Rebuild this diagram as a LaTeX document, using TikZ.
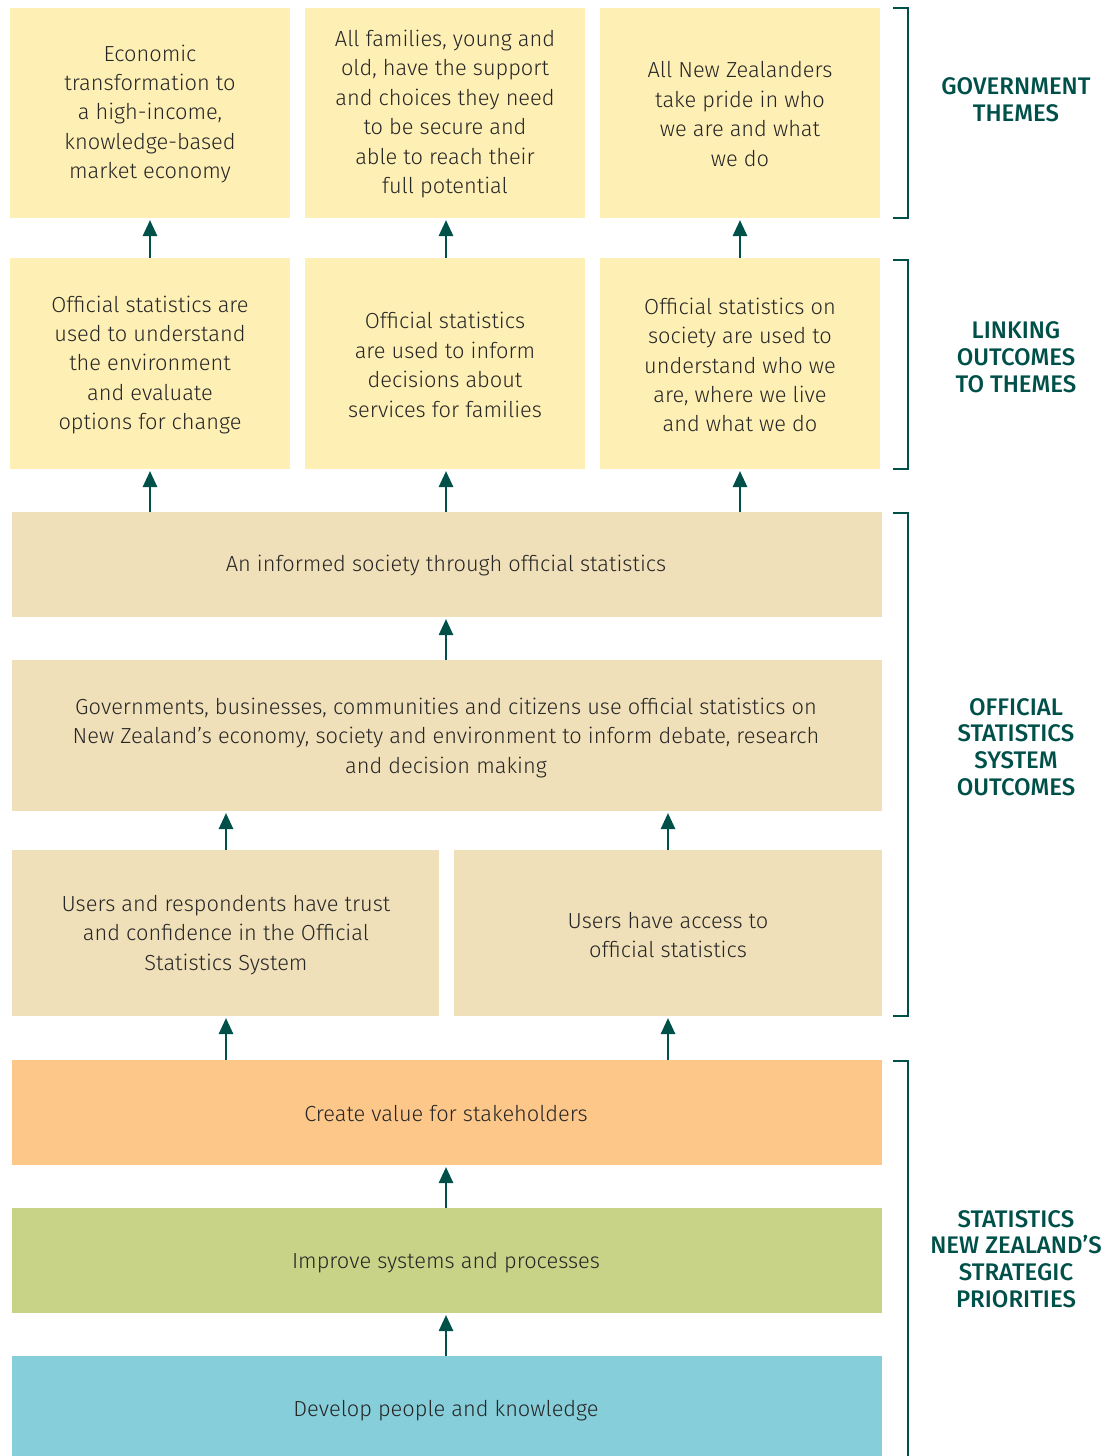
\documentclass[tikz,border=0pt]{standalone}
\usepackage{fontspec}
\setmainfont{Fira Sans Light}
\newfontfamily\labfont{Fira Sans Medium}
\usetikzlibrary{arrows.meta}
\definecolor{themeyel}{RGB}{254,239,181}
\definecolor{beige}{RGB}{240,224,185}
\definecolor{orng}{RGB}{253,199,138}
\definecolor{grn}{RGB}{200,211,136}
\definecolor{blu}{RGB}{134,206,217}
\definecolor{teal}{RGB}{0,80,74}
\begin{document}
\begin{tikzpicture}[x=1pt,y=-1pt,
  boxtxt/.style={font=\fontsize{21.8}{29.4}\selectfont, align=center, text=black!85},
  uparrow/.style={draw=teal, line width=2.6pt, shorten >=2pt, -{Triangle[length=16pt,width=14pt]}},
  brk/.style={draw=teal, line width=1.2pt},
  lab/.style={font=\labfont\fontsize{24}{26.8}\selectfont, align=center, text=teal}]
\useasboundingbox (0,0) rectangle (1113,1456);
% row 1
\fill[themeyel] (10,8) rectangle (290,218);
\fill[themeyel] (305,8) rectangle (585,218);
\fill[themeyel] (600,8) rectangle (880,218);
\node[boxtxt] (t1) at (150,114) {Economic\\transformation to\\a high-income,\\knowledge-based\\market economy};
\node[boxtxt] (t2) at (445,114) {All families, young and\\old, have the support\\and choices they need\\to be secure and\\able to reach their\\full potential};
\node[boxtxt] (t3) at (740,114) {All New Zealanders\\take pride in who\\we are and what\\we do};
\coordinate (t1b) at (150,218); \coordinate (t2b) at (446,218); \coordinate (t3b) at (740,218);
% row 2
\fill[themeyel] (10,258) rectangle (290,469);
\fill[themeyel] (305,258) rectangle (585,469);
\fill[themeyel] (600,258) rectangle (880,469);
\node[boxtxt] (l1) at (150,365) {Official statistics are\\used to understand\\the environment\\and evaluate\\options for change};
\node[boxtxt] (l2) at (445,365) {Official statistics\\are used to inform\\decisions about\\services for families};
\node[boxtxt] (l3) at (740,365) {Official statistics on\\society are used to\\understand who we\\are, where we live\\and what we do};
\coordinate (l1t) at (150,258); \coordinate (l2t) at (446,258); \coordinate (l3t) at (740,258);
\coordinate (l1b) at (150,469); \coordinate (l2b) at (446,469); \coordinate (l3b) at (740,469);
% system outcomes
\fill[beige] (12,512) rectangle (882,617);
\node[boxtxt] (s1) at (446,566) {An informed society through official statistics};
\coordinate (s1a) at (150,512); \coordinate (s1b) at (446,512); \coordinate (s1c) at (740,512);
\coordinate (s1bot) at (446,617);
\fill[beige] (12,660) rectangle (882,811);
\node[boxtxt] (s2) at (446,738) {Governments, businesses, communities and citizens use official statistics on\\New Zealand’s economy, society and environment to inform debate, research\\and decision making};
\coordinate (s2t) at (446,660); \coordinate (s2l) at (226,811); \coordinate (s2r) at (668,811);
\fill[beige] (12,850) rectangle (439,1016);
\fill[beige] (454,850) rectangle (882,1016);
\node[boxtxt] (s3) at (226,935) {Users and respondents have trust\\and confidence in the Official\\Statistics System};
\node[boxtxt] (s4) at (668,935) {Users have access to\\official statistics};
\coordinate (s3t) at (226,850); \coordinate (s4t) at (668,850);
\coordinate (s3b) at (226,1016); \coordinate (s4b) at (668,1016);
% priorities
\fill[orng] (12,1060) rectangle (882,1165);
\node[boxtxt] (p1) at (446,1114) {Create value for stakeholders};
\coordinate (p1l) at (226,1060); \coordinate (p1r) at (668,1060);
\coordinate (p1t) at (446,1165);
\fill[grn] (12,1208) rectangle (882,1313);
\node[boxtxt] (p2) at (446,1263) {Improve systems and processes};
\coordinate (p2t) at (446,1208); \coordinate (p2b) at (446,1313);
\fill[blu] (12,1356) rectangle (882,1456);
\node[boxtxt] (p3) at (446,1411) {Develop people and knowledge};
\coordinate (p3t) at (446,1356);
% arrows
\draw[uparrow] (l1t) -- (t1b);
\draw[uparrow] (l2t) -- (t2b);
\draw[uparrow] (l3t) -- (t3b);
\draw[uparrow] (s1a) -- (l1b);
\draw[uparrow] (s1b) -- (l2b);
\draw[uparrow] (s1c) -- (l3b);
\draw[uparrow] (s2t) -- (s1bot);
\draw[uparrow] (s3t) -- (s2l);
\draw[uparrow] (s4t) -- (s2r);
\draw[uparrow] (p1l) -- (s3b);
\draw[uparrow] (p1r) -- (s4b);
\draw[uparrow] (p2t) -- (p1t);
\draw[uparrow] (p3t) -- (p2b);
% brackets
\draw[brk] (893,8) -- (908,8) -- (908,218) -- (893,218);
\draw[brk] (893,260) -- (908,260) -- (908,469) -- (893,469);
\draw[brk] (893,513) -- (908,513) -- (908,1016) -- (893,1016);
\draw[brk] (893,1061) -- (908,1061) -- (908,1456);
% labels
\node[lab] (g1) at (1016,100) {GOVERNMENT\\THEMES};
\node[lab] (g2) at (1016,357) {LINKING\\OUTCOMES\\TO THEMES};
\node[lab] (g3) at (1016,747) {OFFICIAL\\STATISTICS\\SYSTEM\\OUTCOMES};
\node[lab] (g4) at (1016,1259) {STATISTICS\\NEW ZEALAND’S\\STRATEGIC\\PRIORITIES};
\end{tikzpicture}
\end{document}
